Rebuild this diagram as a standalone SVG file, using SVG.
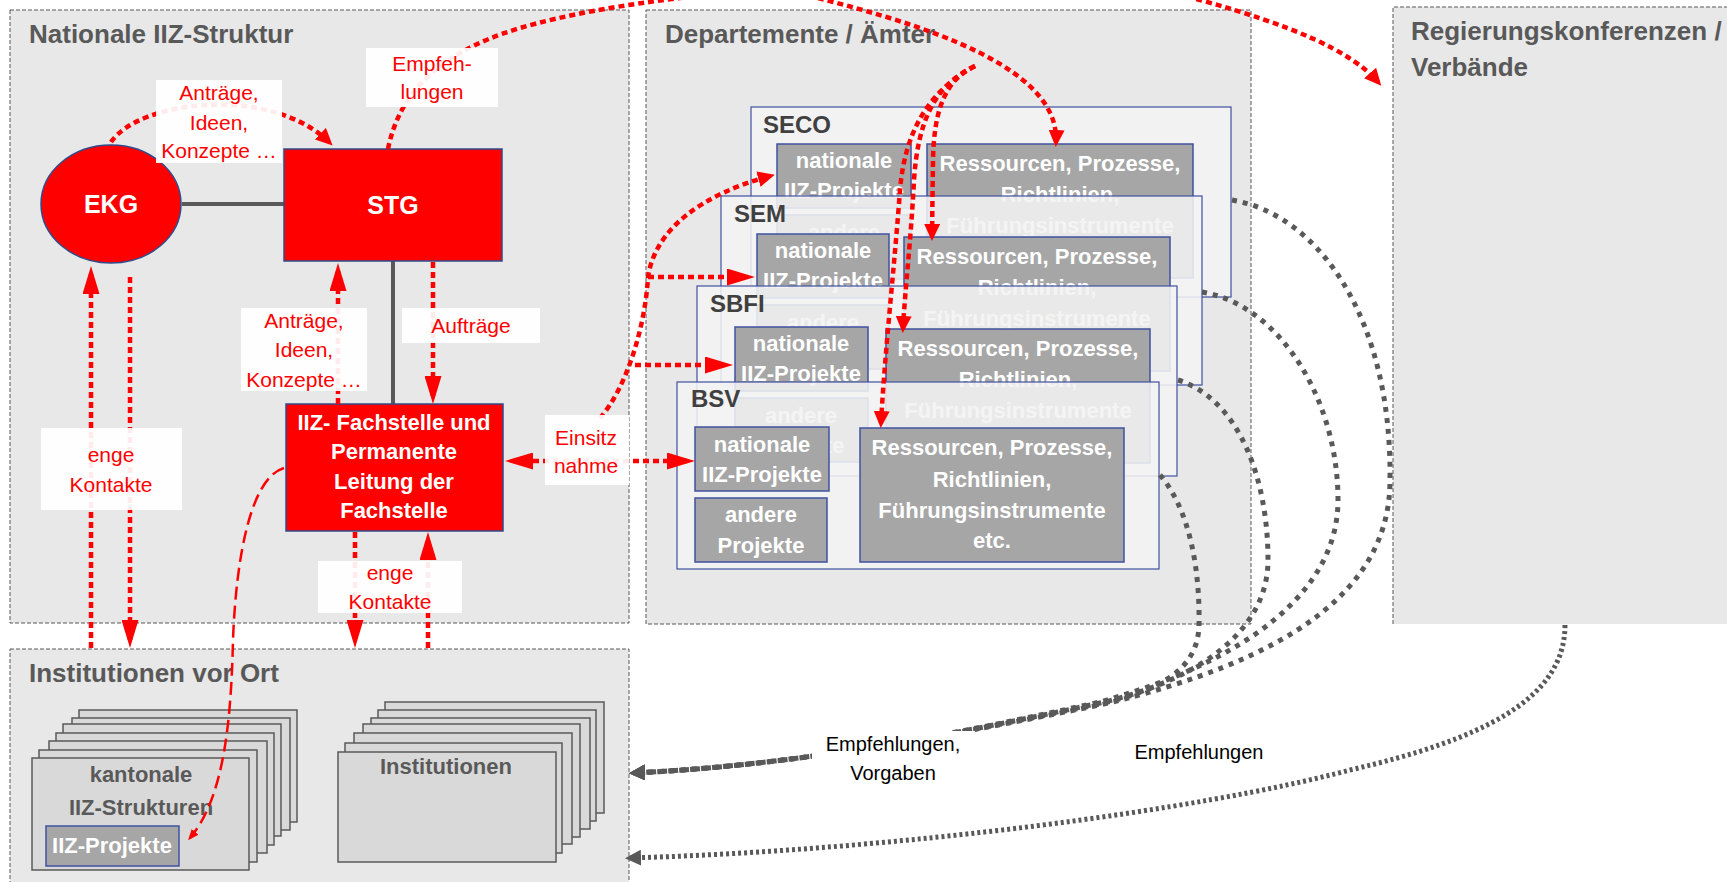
<svg xmlns="http://www.w3.org/2000/svg" width="1727" height="882" viewBox="0 0 1727 882">
<style>
.panel{fill:#e8e8e8;stroke:#595959;stroke-width:1;stroke-dasharray:4 2}
.pt{font-family:"Liberation Sans",Arial,sans-serif;font-weight:bold;font-size:26px;fill:#595959}
.rn{fill:#ff0000;stroke:#2f4b8c;stroke-width:1.5}
.wt{font-family:"Liberation Sans",Arial,sans-serif;font-weight:bold;font-size:22px;fill:#ffffff;text-anchor:middle}
.big{font-size:25px}
.lb{fill:#ffffff;fill-opacity:0.92}
.lt{font-family:"Liberation Sans",Arial,sans-serif;font-size:21px;fill:#ff0000;text-anchor:middle}
.kt{font-family:"Liberation Sans",Arial,sans-serif;font-size:20px;fill:#000000;text-anchor:middle}
.card{fill:#f2f2f2;fill-opacity:0.88;stroke:#3f51a0;stroke-width:1.2}
.gb{fill:#a6a6a6;stroke:#3f51a0;stroke-width:1.5}
.cl{font-family:"Liberation Sans",Arial,sans-serif;font-weight:bold;font-size:24px;fill:#404040}
.inst{fill:#d9d9d9;stroke:#595959;stroke-width:1.5}
.it{font-family:"Liberation Sans",Arial,sans-serif;font-weight:bold;font-size:22px;fill:#595959;text-anchor:middle}
.rd{fill:none;stroke:#ff0000;stroke-width:4.5;stroke-dasharray:6 4}
.rdash{fill:none;stroke:#ff0000;stroke-width:2.5;stroke-dasharray:13 6}
.gd{fill:none;stroke:#595959;stroke-width:5;stroke-dasharray:5 6}
.gd2{fill:none;stroke:#595959;stroke-width:5;stroke-dasharray:3 3}
.gl{stroke:#595959;stroke-width:4;fill:none}
</style>
<defs>
<marker id="arl" viewBox="0 0 28 17" refX="20" refY="8.5" markerWidth="28" markerHeight="17" markerUnits="userSpaceOnUse" orient="auto-start-reverse"><path d="M0,0L28,8.5L0,17z" fill="#ff0000"/></marker>
<marker id="ar" viewBox="0 0 17 16" refX="12" refY="8" markerWidth="17" markerHeight="16" markerUnits="userSpaceOnUse" orient="auto-start-reverse"><path d="M0,0L17,8L0,16z" fill="#ff0000"/></marker>
<marker id="ars" viewBox="0 0 11 9" refX="8" refY="4.5" markerWidth="11" markerHeight="9" markerUnits="userSpaceOnUse" orient="auto"><path d="M0,0L11,4.5L0,9z" fill="#ff0000"/></marker>
<marker id="ag" viewBox="0 0 16 16" refX="11" refY="8" markerWidth="16" markerHeight="16" markerUnits="userSpaceOnUse" orient="auto"><path d="M0,0L16,8L0,16z" fill="#595959"/></marker>
</defs>

<g id="panel-national">
<rect class="panel" x="10" y="10" width="619" height="613"/>
<text class="pt" x="29" y="43">Nationale IIZ-Struktur</text>
</g>
<g id="panel-departemente">
<rect class="panel" x="646" y="10" width="605" height="614"/>
<text class="pt" x="665" y="43">Departemente / Ämter</text>
</g>
<g id="panel-regierung">
<rect x="1393" y="7" width="340" height="617" fill="#e8e8e8"/>
<path d="M1393,624 V7 H1727" fill="none" stroke="#595959" stroke-width="1" stroke-dasharray="4 2"/>
<text class="pt" x="1411" y="40">Regierungskonferenzen /</text>
<text class="pt" x="1411" y="76">Verbände</text>
</g>
<g id="panel-institutionen">
<rect class="panel" x="10" y="649" width="619" height="240"/>
<text class="pt" x="29" y="682">Institutionen vor Ort</text>
</g>

<g id="ekg-stg-lines">
<line class="gl" x1="182" y1="204" x2="285" y2="204"/>
<line class="gl" x1="393" y1="261" x2="393" y2="404"/>
</g>

<g id="node-ekg">
<ellipse class="rn" cx="111" cy="204" rx="70" ry="59"/>
<text class="wt big" x="111" y="213">EKG</text>
</g>
<g id="node-stg">
<rect class="rn" x="284" y="149" width="218" height="112"/>
<text class="wt big" x="393" y="214">STG</text>
</g>
<g id="node-fachstelle">
<rect class="rn" x="286" y="404" width="217" height="127"/>
<text class="wt" x="394" y="430">IIZ- Fachstelle und</text>
<text class="wt" x="394" y="459">Permanente</text>
<text class="wt" x="394" y="489">Leitung der</text>
<text class="wt" x="394" y="518">Fachstelle</text>
</g>

<g id="node-seco">
<rect class="card" x="751" y="107" width="480" height="190"/>
<text class="cl" x="763" y="133">SECO</text>
<rect class="gb" x="777" y="144" width="134" height="64"/>
<text class="wt" x="844" y="168">nationale</text>
<text class="wt" x="844" y="198">IIZ-Projekte</text>
<rect class="gb" x="777" y="215" width="134" height="64"/>
<text class="wt" x="844" y="240">andere</text>
<rect class="gb" x="927" y="144" width="266" height="134"/>
<text class="wt" x="1060" y="171">Ressourcen, Prozesse,</text>
<text class="wt" x="1060" y="202">Richtlinien,</text>
<text class="wt" x="1060" y="233">Führungsinstrumente</text>
</g>
<g id="node-sem">
<rect class="card" x="721" y="196" width="481" height="189"/>
<text class="cl" x="734" y="222">SEM</text>
<rect class="gb" x="757" y="234" width="132" height="64"/>
<text class="wt" x="823" y="258">nationale</text>
<text class="wt" x="823" y="288">IIZ-Projekte</text>
<rect class="gb" x="757" y="305" width="132" height="64"/>
<text class="wt" x="823" y="330">andere</text>
<rect class="gb" x="904" y="237" width="266" height="134"/>
<text class="wt" x="1037" y="264">Ressourcen, Prozesse,</text>
<text class="wt" x="1037" y="295">Richtlinien,</text>
<text class="wt" x="1037" y="326">Führungsinstrumente</text>
</g>
<g id="node-sbfi">
<rect class="card" x="697" y="286" width="480" height="190"/>
<text class="cl" x="710" y="312">SBFI</text>
<rect class="gb" x="735" y="327" width="133" height="64"/>
<text class="wt" x="801" y="351">nationale</text>
<text class="wt" x="801" y="381">IIZ-Projekte</text>
<rect class="gb" x="735" y="398" width="133" height="64"/>
<text class="wt" x="801" y="423">andere</text>
<text class="wt" x="801" y="453">Projekte</text>
<rect class="gb" x="886" y="329" width="264" height="134"/>
<text class="wt" x="1018" y="356">Ressourcen, Prozesse,</text>
<text class="wt" x="1018" y="387">Richtlinien,</text>
<text class="wt" x="1018" y="418">Führungsinstrumente</text>
</g>
<g id="node-bsv">
<rect class="card" x="677" y="382" width="482" height="187"/>
<text class="cl" x="691" y="407">BSV</text>
<rect class="gb" x="695" y="427" width="134" height="64"/>
<text class="wt" x="762" y="452">nationale</text>
<text class="wt" x="762" y="482">IIZ-Projekte</text>
<rect class="gb" x="695" y="498" width="132" height="64"/>
<text class="wt" x="761" y="522">andere</text>
<text class="wt" x="761" y="553">Projekte</text>
<rect class="gb" x="860" y="428" width="264" height="134"/>
<text class="wt" x="992" y="455">Ressourcen, Prozesse,</text>
<text class="wt" x="992" y="487">Richtlinien,</text>
<text class="wt" x="992" y="518">Führungsinstrumente</text>
<text class="wt" x="992" y="548">etc.</text>
</g>

<g id="node-kantonale">
<rect class="inst" x="79" y="710" width="218" height="112"/>
<rect class="inst" x="72" y="718" width="218" height="112"/>
<rect class="inst" x="63" y="724" width="218" height="112"/>
<rect class="inst" x="56" y="733" width="218" height="112"/>
<rect class="inst" x="49" y="741" width="218" height="112"/>
<rect class="inst" x="39" y="750" width="218" height="112"/>
<rect class="inst" x="32" y="758" width="217" height="112"/>
<text class="it" x="141" y="782">kantonale</text>
<text class="it" x="141" y="815">IIZ-Strukturen</text>
<rect class="gb" x="46" y="826" width="133" height="40"/>
<text class="wt" x="112" y="853">IIZ-Projekte</text>
</g>
<g id="node-institutionen">
<rect class="inst" x="385" y="702" width="219" height="111"/>
<rect class="inst" x="378" y="710" width="218" height="111"/>
<rect class="inst" x="371" y="718" width="219" height="111"/>
<rect class="inst" x="363" y="724" width="217" height="113"/>
<rect class="inst" x="354" y="733" width="218" height="111"/>
<rect class="inst" x="345" y="743" width="217" height="110"/>
<rect class="inst" x="338" y="752" width="218" height="110"/>
<text class="it" x="446" y="774">Institutionen</text>
</g>

<g id="connectors">
<path class="rd" d="M111,142 C140,100 270,85 329,142" marker-end="url(#ar)"/>
<path class="rd" d="M388,149 C398,100 430,55 520,28 C700,-25 1100,-30 1200,0 C1290,25 1350,50 1378,82" marker-end="url(#ar)"/>
<path class="rd" d="M740,-20 C900,15 1060,60 1056,142" marker-end="url(#ar)"/>
<path class="rd" d="M975,66 C945,80 934,110 933,160 L932,236" marker-end="url(#ar)"/>
<path class="rd" d="M975,66 C935,85 918,120 914,180 C911,240 905,290 903,328" marker-end="url(#ar)"/>
<path class="rd" d="M975,66 C930,90 905,130 900,190 C895,260 885,350 881,423" marker-end="url(#ar)"/>
<path class="rd" d="M433,262 L433,396" marker-end="url(#arl)"/>
<path class="rd" d="M338,404 L338,271" marker-end="url(#arl)"/>
<path class="rd" d="M91,648 L91,274" marker-end="url(#arl)"/>
<path class="rd" d="M130,277 L130,640" marker-end="url(#arl)"/>
<path class="rd" d="M355,532 L355,640" marker-end="url(#arl)"/>
<path class="rd" d="M428,648 L428,540" marker-end="url(#arl)"/>
<path class="rd" d="M513,461 L687,461" marker-start="url(#arl)" marker-end="url(#arl)"/>
<path class="rd" d="M600,418 C625,390 645,330 648,277 C655,230 700,195 770,176" marker-end="url(#ar)"/>
<path class="rd" d="M635,365 L725,365" marker-end="url(#arl)"/>
<path class="rd" d="M648,277 L747,277" marker-end="url(#arl)"/>
<path class="rdash" d="M284,468 C250,478 236,560 233,640 C231,730 222,800 190,838" marker-end="url(#ars)"/>
<path class="gd" d="M1232,200 C1320,215 1392,320 1390,480 C1390,590 1290,660 1100,705 C950,735 800,765 634,773" marker-end="url(#ag)"/>
<path class="gd" d="M1202,292 C1280,305 1338,400 1338,500 C1338,590 1250,660 1100,702 C950,735 800,765 634,773" marker-end="url(#ag)"/>
<path class="gd" d="M1178,380 C1240,400 1268,480 1268,560 C1268,630 1200,680 1100,703 C950,735 800,765 634,773" marker-end="url(#ag)"/>
<path class="gd" d="M1160,475 C1190,510 1200,570 1199,625 C1198,670 1160,690 1100,704 C950,735 800,765 634,773" marker-end="url(#ag)"/>
<path class="gd2" d="M1565,625 C1565,700 1480,740 1350,770 C1200,810 900,850 630,858" marker-end="url(#ag)"/>
<rect class="lb" x="156" y="80" width="126" height="83"/>
<text class="lt" x="219" y="100">Anträge,</text>
<text class="lt" x="219" y="130">Ideen,</text>
<text class="lt" x="219" y="158">Konzepte …</text>
<rect class="lb" x="366" y="48" width="132" height="59"/>
<text class="lt" x="432" y="71">Empfeh-</text>
<text class="lt" x="432" y="99">lungen</text>
<rect class="lb" x="241" y="308" width="126" height="83"/>
<text class="lt" x="304" y="328">Anträge,</text>
<text class="lt" x="304" y="357">Ideen,</text>
<text class="lt" x="304" y="387">Konzepte …</text>
<rect class="lb" x="402" y="308" width="138" height="35"/>
<text class="lt" x="471" y="333">Aufträge</text>
<rect class="lb" x="41" y="428" width="141" height="82"/>
<text class="lt" x="111" y="462">enge</text>
<text class="lt" x="111" y="492">Kontakte</text>
<rect class="lb" x="318" y="561" width="144" height="52"/>
<text class="lt" x="390" y="580">enge</text>
<text class="lt" x="390" y="609">Kontakte</text>
<rect class="lb" x="545" y="415" width="84" height="70"/>
<text class="lt" x="586" y="445">Einsitz</text>
<text class="lt" x="586" y="473">nahme</text>
<rect x="812" y="731" width="163" height="54" fill="#ffffff"/>
<text class="kt" x="893" y="751">Empfehlungen,</text>
<text class="kt" x="893" y="780">Vorgaben</text>
<text class="kt" x="1199" y="759">Empfehlungen</text>
</g>
</svg>
